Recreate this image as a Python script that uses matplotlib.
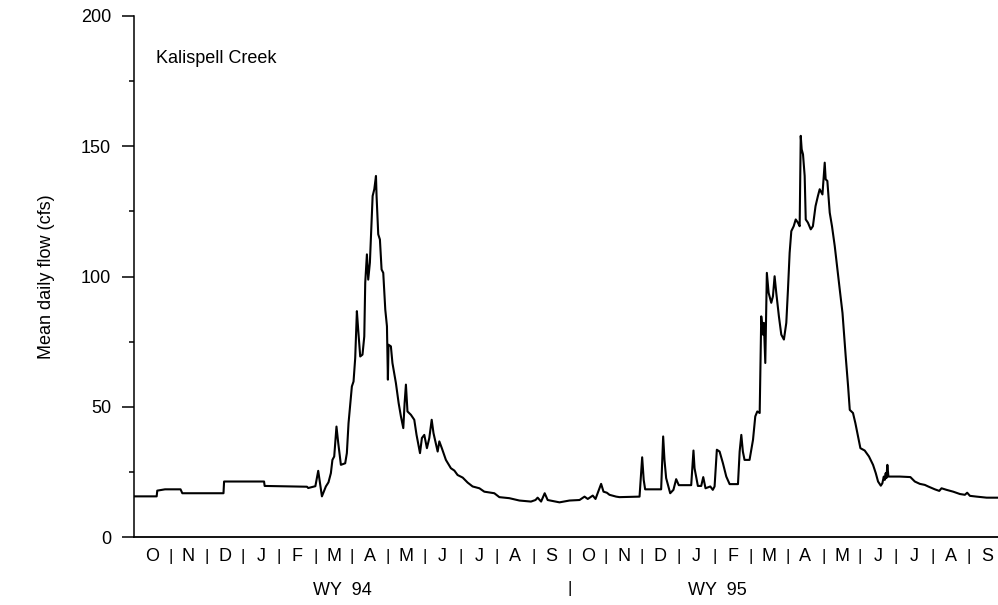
import matplotlib
matplotlib.use("Agg")
import matplotlib.pyplot as plt
from matplotlib.ticker import MultipleLocator

plt.rcParams['font.family'] = ['Liberation Sans', 'DejaVu Sans']

# Days since 1993-10-01 and mean daily flow (cfs)
days = [0, 19, 19.5, 26, 39, 40.5, 75, 75.5, 109, 109.5, 145, 146, 152, 154.4, 157.5,
        160.8, 163, 165, 166.3, 167.8, 169.7, 171.2, 173.4, 177, 178.4, 179.8, 182.6,
        184, 185.4, 186.8, 187.9, 189.6, 191.5, 193, 193.8, 195.2, 196.3, 197.7, 198.5,
        200, 201.4, 202.8, 203.3, 204.7, 206.1, 207.5, 208.9, 210.6, 212, 212.8, 213.3,
        215.3, 216.6, 219.5, 221.8, 223.7, 225.7, 226.8, 227.9, 229.2, 232.1, 234.9,
        236.8, 239.7, 241.3, 243.3, 245.5, 247.5, 249.5, 251, 254.5, 255.9, 258, 261.4,
        265.6, 268.5, 271.2, 275.5, 279.6, 283.8, 289.5, 293.6, 302, 306.2, 314.6, 323,
        332.7, 336.5, 338.3, 341.2, 344.2, 346.7, 356.6, 365, 373.4, 377.6, 380.3, 384.5,
        386.8, 391.5, 393.5, 396.3, 398.5, 404.1, 406.9, 423.7, 425.9, 427.2, 428.4,
        441.8, 443.5, 444.6, 446, 449.4, 452.1, 454.4, 456.6, 467, 468.9, 469.8, 472.6,
        475.4, 477.1, 479, 483, 485.1, 486.6, 488.5, 490.8, 493.6, 496.4, 499.2, 506.2,
        507.6, 509, 510.3, 511.7, 515.9, 518.8, 520.7, 522.4, 524.4, 525.7, 527.1, 527.9,
        529.1, 530.4, 531.9, 534.1, 535.5, 536.9, 538.3, 540.5, 542.5, 544.7, 546.7,
        548.1, 549.5, 550.9, 552.9, 554.6, 556.4, 557.9, 558.8, 559.6, 560.7, 562.1, 563,
        564.8, 567.2, 569, 571.2, 573.2, 574.7, 577, 578.9, 579.7, 581.1, 583.1, 585,
        587.3, 589.2, 591.5, 593.8, 596.5, 598.5, 599.9, 602.6, 604.6, 606.8, 608.8,
        612.4, 616, 619.4, 621.7, 623.6, 625.9, 627.2, 628.4, 629.2, 630, 630.6, 631.4,
        632.3, 641.8, 650.7, 654.4, 658.6, 662.8, 665.6, 671.2, 674.9, 676.8, 681, 686.6,
        692.2, 696.4, 698.3, 700.6, 706.2, 714.6, 724.4, 730]
flow = [15.6, 15.6, 17.8, 18.3, 18.3, 16.8, 16.8, 21.3, 21.3, 19.6, 19.3, 18.8, 19.5, 25.4, 15.6,
        19.4, 21, 24.5, 29.6, 30.9, 42.4, 36, 27.7, 28.3, 32.2, 43.7, 57.8,
        59.7, 68.7, 86.7, 79.6, 69.3, 70, 77, 97.6, 108.5, 98.8, 105.3, 114.2,
        130.9, 133.5, 138.6, 130.9, 116.2, 114.2, 102.7, 101.4, 87.3, 80.9, 60.4, 73.8,
        73.2, 66.8, 59.1, 51.4, 46.3, 41.8, 51.4, 58.5, 48.2, 46.9, 45,
        39.2, 32.2, 38, 39.2, 34.1, 38, 45, 39.9, 32.8, 36.7, 34.1, 29.6,
        26.4, 25.5, 23.8, 22.8, 20.9, 19.4, 18.7, 17.4, 16.8, 15.3, 14.9, 14,
        13.6, 14.2, 15.1, 13.6, 16.8, 14.2, 13.3, 14, 14.2, 15.5, 14.6, 15.9,
        14.6, 20.4, 17.4, 17, 16.2, 15.5, 15.3, 15.5, 30.6, 21.9, 18.3,
        18.3, 38.6, 29.6, 22.6, 16.8, 18.1, 22.2, 19.9, 19.9, 33.2, 26.4, 19.6,
        19.6, 23, 18.7, 19.4, 18.1, 19.4, 33.5, 32.8, 28.3, 23.2, 20.3, 20.3,
        32.8, 39.2, 32.8, 29.6, 29.6, 37.3, 46.3, 48.2, 47.6, 84.7, 77.7, 82.2,
        66.8, 101.4, 93.7, 89.9, 92.4, 100.1, 93.7, 84.7, 77.7, 75.8, 82.2,
        95, 109.1, 117.4, 119.3, 121.9, 120.7, 119.3, 154, 148.8, 146.9, 138.6, 121.9,
        120.7, 118.1, 119.3, 127, 130.9, 133.5, 131.5, 143.7, 137.3, 136.7, 124.5, 119.3,
        111.7, 104, 95, 86, 69.3, 57.8, 48.8, 47.6, 43.7, 38.6, 34.1,
        33.2, 30.9, 27.7, 24.5, 21.3, 19.7, 20.6, 23.2, 21.9, 24.5, 22.6, 27.7,
        23.2, 23.2, 23, 21.3, 20.4, 20, 19.4, 18.3, 17.7, 18.7, 18.1, 17.4,
        16.5, 16.2, 17, 15.8, 15.5, 15.1, 15.1, 15]

month_labels = ["O", "N", "D", "J", "F", "M", "A", "M", "J", "J", "A", "S",
                "O", "N", "D", "J", "F", "M", "A", "M", "J", "J", "A", "S"]
water_years = ["WY  94", "WY  95"]
y_ticks = [0, 50, 100, 150, 200]

fig = plt.figure(figsize=(9.98, 6.05), dpi=100)
ax = fig.add_axes([134/998, 68/605, (1005-134)/998, (537-16)/605])

ax.plot(days, flow, color="black", lw=1.5, solid_joinstyle="round")

month_len = 730 / 24.0
ax.set_xlim(0, 730)
ax.set_ylim(0, 200)

for s in ["top", "right"]:
    ax.spines[s].set_visible(False)
ax.spines["left"].set_linewidth(1.1)
ax.spines["bottom"].set_linewidth(1.3)

ax.set_yticks(y_ticks)
ax.yaxis.set_minor_locator(MultipleLocator(25))
ax.tick_params(axis="y", which="major", length=8.5, width=1.1, pad=8, labelsize=13)
ax.tick_params(axis="y", which="minor", length=3.5, width=1.1)
ax.set_xticks([])

# month labels and separators
for i, lab in enumerate(month_labels):
    xc = (i + 0.5) * month_len
    ax.annotate(lab, xy=(xc, 0), xycoords=("data", "axes fraction"),
                xytext=(0, -14), textcoords="offset points",
                ha="center", va="center", fontsize=13)
    if i > 0:
        ax.annotate("|", xy=(i * month_len, 0), xycoords=("data", "axes fraction"),
                    xytext=(0, -14), textcoords="offset points",
                    ha="center", va="center", fontsize=12)

ax.annotate("|", xy=(12 * month_len, 0), xycoords=("data", "axes fraction"),
            xytext=(0, -37), textcoords="offset points",
            ha="center", va="center", fontsize=12)

wy_x = [174.5, 489]
for lab, xc in zip(water_years, wy_x):
    ax.annotate(lab, xy=(xc, 0), xycoords=("data", "axes fraction"),
                xytext=(0, -38.5), textcoords="offset points",
                ha="center", va="center", fontsize=13)

ax.text(18.5, 183.5, "Kalispell Creek", ha="left", va="center", fontsize=13)

fig.text(47/998, 1 - 277/605, "Mean daily flow (cfs)", rotation=90,
         ha="center", va="center", fontsize=13)

fig.savefig("out.png", dpi=100)
